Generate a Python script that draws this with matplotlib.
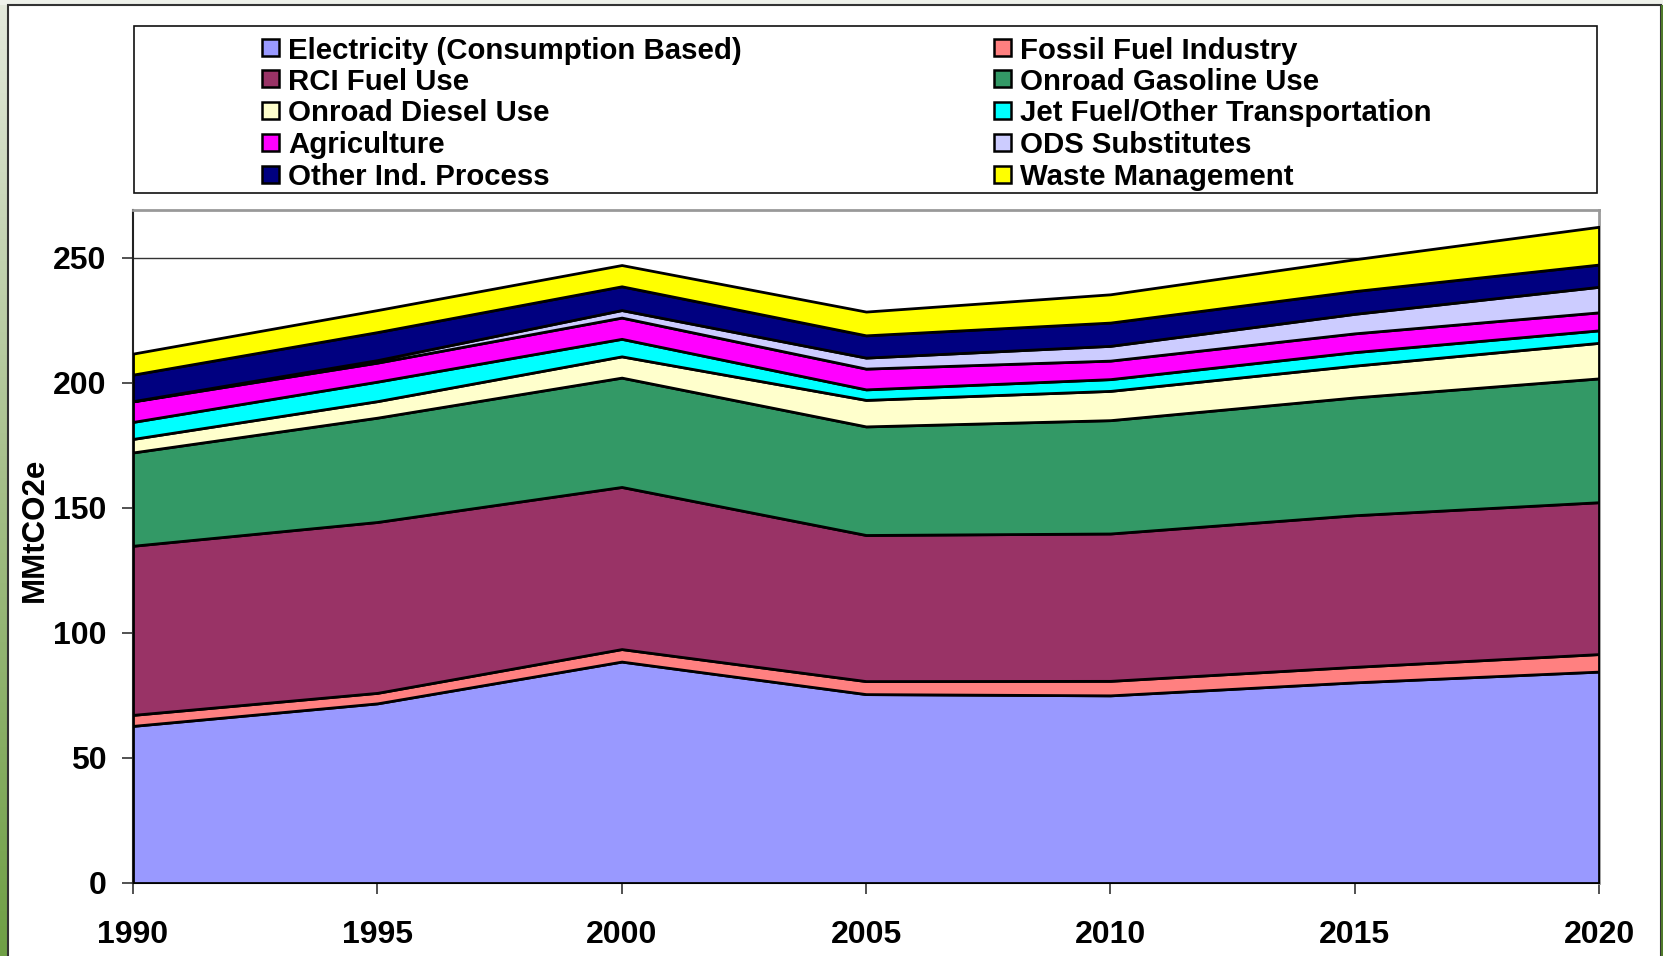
import numpy as np
import matplotlib
matplotlib.use("Agg")
import matplotlib.pyplot as plt
from matplotlib.patches import Rectangle
from matplotlib.colors import LinearSegmentedColormap

plt.rcParams['font.family'] = ['Liberation Sans', 'DejaVu Sans']
plt.rcParams['font.weight'] = 'bold'

years = [1990, 1995, 2000, 2005, 2010, 2015, 2020]
sectors = ["Electricity (Consumption Based)", "Fossil Fuel Industry", "RCI Fuel Use",
           "Onroad Gasoline Use", "Onroad Diesel Use", "Jet Fuel/Other Transportation",
           "Agriculture", "ODS Substitutes", "Other Ind. Process", "Waste Management"]
electricity = [62.8, 71.8, 88.5, 75.5, 75.0, 80.2, 84.5]
fossil      = [4.4, 4.2, 5.0, 5.2, 5.8, 6.2, 7.0]
rci         = [67.6, 68.3, 64.8, 58.4, 58.9, 60.6, 60.7]
gasoline    = [37.3, 41.7, 43.7, 43.4, 45.3, 47.1, 49.5]
diesel      = [5.4, 6.6, 8.5, 10.6, 11.7, 12.7, 14.2]
jetfuel     = [6.8, 7.8, 7.0, 4.2, 4.7, 5.4, 5.0]
agriculture = [8.2, 7.6, 8.5, 8.3, 7.4, 7.5, 7.2]
ods         = [0.1, 1.0, 3.0, 4.4, 5.9, 7.8, 10.2]
otherind    = [10.6, 11.2, 9.5, 8.9, 9.3, 9.1, 8.9]
waste       = [8.4, 8.8, 8.5, 9.5, 11.3, 12.7, 15.1]
yticks = [0, 50, 100, 150, 200, 250]

colors = ["#9999FF", "#FF8080", "#993366", "#339966", "#FFFFCC", "#00FFFF",
          "#FF00FF", "#CCCCFF", "#000080", "#FFFF00"]
series = [electricity, fossil, rci, gasoline, diesel, jetfuel, agriculture, ods, otherind, waste]

W, H = 1663, 956
fig = plt.figure(figsize=(W / 100, H / 100), dpi=100)
fig.patch.set_facecolor("white")

# background frame
bg = fig.add_axes([0, 0, 1, 1], zorder=-10)
bg.set_xlim(0, W)
bg.set_ylim(H, 0)
bg.axis("off")
grad = np.linspace(0, 1, 256).reshape(-1, 1)
cmap = LinearSegmentedColormap.from_list("g", ["#e4e9dc", "#a6bf8a", "#6f9f45"])
bg.imshow(grad, aspect="auto", cmap=cmap, extent=[0, 8, H, 0])
bg.add_patch(Rectangle((0, 0), W, 5, facecolor="#eef1ea", edgecolor="none"))
bg.add_patch(Rectangle((8, 5), W - 10, H, facecolor="white", edgecolor="#333333", linewidth=1.5))
bg.add_patch(Rectangle((W - 2, 5), 2, H, facecolor="#4f7a2a", edgecolor="none"))

# main axes
left, right, bottom, top = 133, 1599, 883, 210
ax = fig.add_axes([left / W, 1 - bottom / H, (right - left) / W, (bottom - top) / H])
ax.set_facecolor("white")
ax.stackplot(years, *series, colors=colors, edgecolor="black", linewidth=2.0, zorder=3)
ax.set_xlim(1990, 2020)
ax.set_ylim(0, 269)
ax.set_xticks(years)
ax.set_yticks(yticks)
ax.yaxis.grid(True, color="#333333", linewidth=1.0, zorder=0)
ax.set_axisbelow(True)
ax.tick_params(axis="both", direction="out", length=8, width=1.2, color="#333333",
               labelsize=23)
ax.tick_params(axis="x", pad=18.5)
ax.tick_params(axis="y", pad=11)
for lab in ax.get_xticklabels() + ax.get_yticklabels():
    lab.set_fontweight("bold")
for s in ["left", "bottom"]:
    ax.spines[s].set_color("#222222")
    ax.spines[s].set_linewidth(1.5)
for s in ["top", "right"]:
    ax.spines[s].set_color("#999999")
    ax.spines[s].set_linewidth(2)

fig.text(35 / W, 1 - 530 / H, "MMtCO2e", rotation=90, ha="center", va="center",
         fontsize=22.5, fontweight="bold")

# legend box
leg_ax = fig.add_axes([0, 0, 1, 1], zorder=5)
leg_ax.set_xlim(0, W)
leg_ax.set_ylim(H, 0)
leg_ax.axis("off")
leg_ax.add_patch(Rectangle((134, 26), 1597 - 134, 193 - 26, facecolor="white",
                           edgecolor="#111111", linewidth=1.2))
row_y = [47.5, 78.5, 110.3, 142.2, 174.0]
col_x = [262, 994]
for i, (name, c) in enumerate(zip(sectors, colors)):
    r, col = i // 2, i % 2
    x0, yc = col_x[col], row_y[r]
    leg_ax.add_patch(Rectangle((x0, yc - 8.5), 17, 17, facecolor=c, edgecolor="black",
                               linewidth=1.8))
    leg_ax.text(x0 + 26, yc, name, ha="left", va="center_baseline", fontsize=21.2,
                fontweight="bold")

fig.savefig("out.png", dpi=100)
